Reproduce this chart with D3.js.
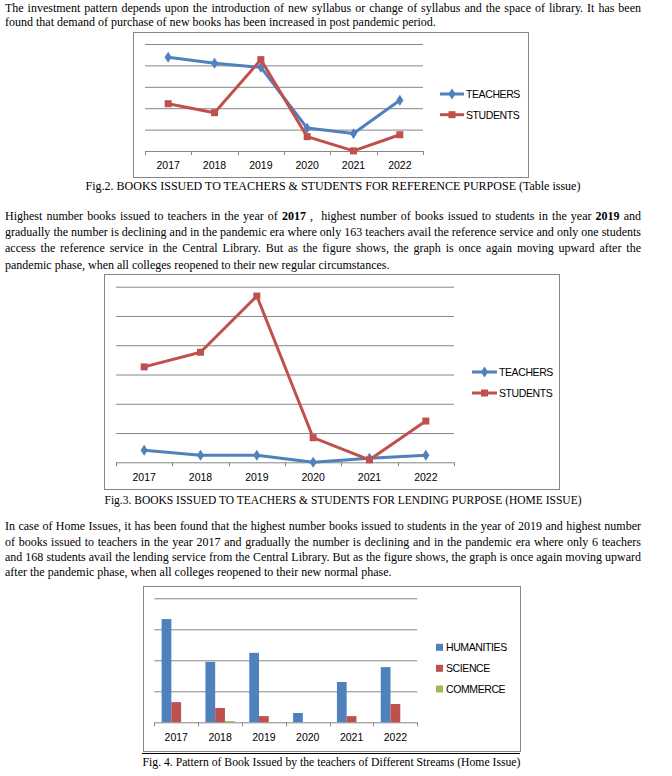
<!DOCTYPE html>
<html>
<head>
<meta charset="utf-8">
<script src="https://cdn.jsdelivr.net/npm/d3@7"></script>
<style>
  html, body { margin: 0; padding: 0; background: #fff; }
  #page { position: relative; width: 672px; height: 776px; overflow: hidden; background: #fff; }
  .ln { position: absolute; left: 5px; width: 636px; height: 16px; line-height: 16px;
        font-family: "Liberation Serif", "Times New Roman", serif; font-size: 12px; color: #000;
        white-space: nowrap; text-align: justify; text-align-last: justify; }
  .ln.last { text-align-last: left; }
  .cap { position: absolute; height: 16px; line-height: 16px; white-space: nowrap;
        font-family: "Liberation Serif", "Times New Roman", serif; font-size: 12px; color: #000;
        transform: translateX(-50%); }
  svg { position: absolute; left: 0; top: 0; }
  svg text { font-family: "Liberation Sans", Arial, sans-serif; fill: #000; }
</style>
</head>
<body>
<div id="page"></div>
<script>
// ---------- DATA ----------
const years = ["2017", "2018", "2019", "2020", "2021", "2022"];
// Fig.2 reference purpose (table issue)
const refSeries = ["TEACHERS", "STUDENTS"];
const refTeachers = [876, 820, 782, 214, 163, 474];
const refStudents = [442, 358, 854, 134, 1, 152];
const refTicks = [0, 200, 400, 600, 800, 1000];
// Fig.3 lending purpose (home issue)
const lendSeries = ["TEACHERS", "STUDENTS"];
const lendTeachers = [820, 480, 480, 6, 280, 480];
const lendStudents = [6520, 7520, 11360, 1680, 168, 2820];
const lendTicks = [0, 2000, 4000, 6000, 8000, 10000, 12000];
// Fig.4 streams
const streams = ["HUMANITIES", "SCIENCE", "COMMERCE"];
const humanities = [333, 195, 224, 30, 130, 178];
const science = [65, 46, 20, 0, 20, 59];
const commerce = [0, 4, 0, 0, 0, 0];
const streamTicks = [0, 100, 200, 300, 400];

const para1 = [
  "The investment pattern depends upon the introduction of new syllabus or change of syllabus and the space of library. It has been",
  "found that demand of purchase of new books has been increased in post pandemic period."
];
const para2 = [
  "Highest number books issued to teachers in the year of <b>2017</b> ,&nbsp; highest number of books issued to students in the year <b>2019</b> and",
  "gradually the number is declining and in the pandemic era where only 163 teachers avail the reference service and only one students",
  "access the reference service in the Central Library. But as the figure shows, the graph is once again moving upward after the",
  "pandemic phase, when all colleges reopened to their new regular circumstances."
];
const para3 = [
  "In case of Home Issues, it has been found that the highest number books issued to students in the year of 2019 and highest number",
  "of books issued to teachers in the year 2017 and gradually the number is declining and in the pandemic era where only 6 teachers",
  "and 168 students avail the lending service from the Central Library. But as the figure shows, the graph is once again moving upward",
  "after the pandemic phase, when all colleges reopened to their new normal phase."
];
const captions = [
  "Fig.2. BOOKS ISSUED TO TEACHERS &amp; STUDENTS FOR REFERENCE PURPOSE (Table issue)",
  "Fig.3. BOOKS ISSUED TO TEACHERS &amp; STUDENTS FOR LENDING PURPOSE (HOME ISSUE)",
  "Fig. 4. Pattern of Book Issued by the teachers of Different Streams (Home Issue)"
];

const BLUE = "#4F81BD", RED = "#C0504D", GREEN = "#9BBB59", GRID = "#868686";

const page = d3.select("#page");

// ---------- TEXT ----------
function addPara(lines, ys) {
  lines.forEach((t, i) => {
    page.append("div").attr("class", "ln" + (i === lines.length - 1 ? " last" : ""))
      .style("top", (ys[i] - 8) + "px").html(t);
  });
}
addPara(para1, [8, 22]);
addPara(para2, [215.5, 232, 248.3, 265]);
addPara(para3, [526, 541.5, 557, 572]);

const capPos = [{x: 333, y: 185.5, fs: 12}, {x: 343, y: 500, fs: 11.5}, {x: 331.5, y: 763, fs: 11.7}];
captions.forEach((c, i) => {
  page.append("div").attr("class", "cap")
    .style("left", capPos[i].x + "px").style("top", (capPos[i].y - 8) + "px")
    .style("font-size", capPos[i].fs + "px").html(c);
});

// ---------- SVG ----------
const svg = page.append("svg").attr("width", 672).attr("height", 776);

function frame(x0, y0, x1, y1) {
  svg.append("rect").attr("x", x0 + 0.5).attr("y", y0 + 0.5)
    .attr("width", x1 - x0).attr("height", y1 - y0)
    .attr("fill", "none").attr("stroke", GRID).attr("stroke-width", 1);
}

function axesAndGrid(g, x, y, ticks, labelPad) {
  const [l, r] = x.range();
  g.append("g").attr("class", "grid").attr("transform", `translate(${l},0)`)
    .call(d3.axisLeft(y).tickValues(ticks).tickSize(-(r - l)).tickFormat(""))
    .call(s => s.select(".domain").remove())
    .call(s => s.selectAll("line").attr("stroke", GRID).attr("stroke-width", 1));
  const base = y(0);
  // category boundary tick marks
  const bounds = x.domain().map(d => x(d)).concat([r]);
  g.append("g").selectAll("line").data(bounds).join("line")
    .attr("x1", d => Math.round(d) + 0.5).attr("x2", d => Math.round(d) + 0.5)
    .attr("y1", base).attr("y2", base + 4).attr("stroke", GRID);
  // labels
  g.append("g").attr("transform", `translate(0,${base})`)
    .call(d3.axisBottom(x).tickSize(0).tickPadding(labelPad))
    .call(s => s.select(".domain").remove())
    .call(s => s.selectAll("text").attr("font-size", 10.5).attr("font-family", "Liberation Sans, Arial, sans-serif").attr("fill", "#000"));
}

function marker(g, type, cx, cy, color) {
  if (type === "diamond") {
    g.append("path").attr("d", d3.symbol(d3.symbolDiamond, 34)()).attr("transform", `translate(${cx},${cy}) scale(1.15,1)`).attr("fill", color);
  } else {
    g.append("rect").attr("x", cx - 3.5).attr("y", cy - 3.5).attr("width", 7).attr("height", 7).attr("fill", color);
  }
}

function lineChart(opts) {
  const g = svg.append("g");
  const x = d3.scaleBand().domain(years).range([opts.left, opts.right]);
  const y = d3.scaleLinear().domain([0, d3.max(opts.ticks)]).range([opts.bottom, opts.top]);
  axesAndGrid(g, x, y, opts.ticks, opts.labelPad);
  const cx = d => x(d) + x.bandwidth() / 2;
  const series = [
    {name: opts.names[0], vals: opts.a, color: BLUE, type: "diamond"},
    {name: opts.names[1], vals: opts.b, color: RED, type: "square"}
  ];
  const order = opts.redOnTop ? series : series.slice().reverse();
  order.forEach(s => {
    const line = d3.line().x((d, i) => cx(years[i])).y(d => y(d));
    g.append("path").datum(s.vals).attr("d", line).attr("fill", "none")
      .attr("stroke", s.color).attr("stroke-width", 3).attr("stroke-linejoin", "round");
    s.vals.forEach((v, i) => marker(g, s.type, cx(years[i]), y(v), s.color));
  });
  // legend
  series.forEach((s, i) => {
    const ly = opts.legY[i];
    g.append("line").attr("x1", opts.legX).attr("x2", opts.legX + opts.legW)
      .attr("y1", ly).attr("y2", ly).attr("stroke", s.color).attr("stroke-width", 3);
    marker(g, s.type, opts.legX + opts.legW / 2, ly, s.color);
    g.append("text").attr("x", opts.legX + opts.legW + 2).attr("y", ly)
      .attr("dominant-baseline", "central").attr("font-size", 10.5)
      .attr("letter-spacing", "-0.4px").text(s.name);
  });
}

// Fig.2
frame(133, 32, 528, 177);
lineChart({left: 145, right: 423, top: 44, bottom: 151, ticks: refTicks,
  a: refTeachers, b: refStudents, names: refSeries, labelPad: 10.5,
  legX: 440, legW: 24, legY: [94, 114.7], redOnTop: true});

// Fig.3
frame(104, 274, 559, 489);
lineChart({left: 116, right: 454, top: 286.7, bottom: 462.3, ticks: lendTicks,
  a: lendTeachers, b: lendStudents, names: lendSeries, labelPad: 11.5,
  legX: 472, legW: 25, legY: [372, 393], redOnTop: true});

// Fig.4
frame(143, 586, 520, 751);
svg.append("line").attr("x1", 142).attr("x2", 520).attr("y1", 753.5).attr("y2", 753.5)
  .attr("stroke", "#000").attr("stroke-width", 1.2);
(function () {
  const g = svg.append("g");
  const x0 = d3.scaleBand().domain(years).range([154.3, 417.3]);
  const y = d3.scaleLinear().domain([0, d3.max(streamTicks)]).range([722.3, 598.3]);
  axesAndGrid(g, x0, y, streamTicks, 11);
  const bw = x0.bandwidth(), w = bw / 4.5;
  const x1 = d3.scaleBand().domain(streams).range([0.75 * w, bw - 0.75 * w]);
  const data = [humanities, science, commerce];
  const colors = [BLUE, RED, GREEN];
  streams.forEach((s, si) => {
    g.append("g").selectAll("rect").data(data[si]).join("rect")
      .attr("x", (d, i) => x0(years[i]) + x1(s))
      .attr("width", x1.bandwidth())
      .attr("y", d => y(d))
      .attr("height", d => y(0) - y(d))
      .attr("fill", colors[si]);
  });
  const legY = [647.3, 668.3, 689];
  streams.forEach((s, i) => {
    g.append("rect").attr("x", 436).attr("y", legY[i] - 3.5).attr("width", 7).attr("height", 7).attr("fill", colors[i]);
    g.append("text").attr("x", 446).attr("y", legY[i]).attr("dominant-baseline", "central")
      .attr("font-size", 10.5).attr("letter-spacing", "-0.4px").text(s);
  });
})();
</script>
</body>
</html>
